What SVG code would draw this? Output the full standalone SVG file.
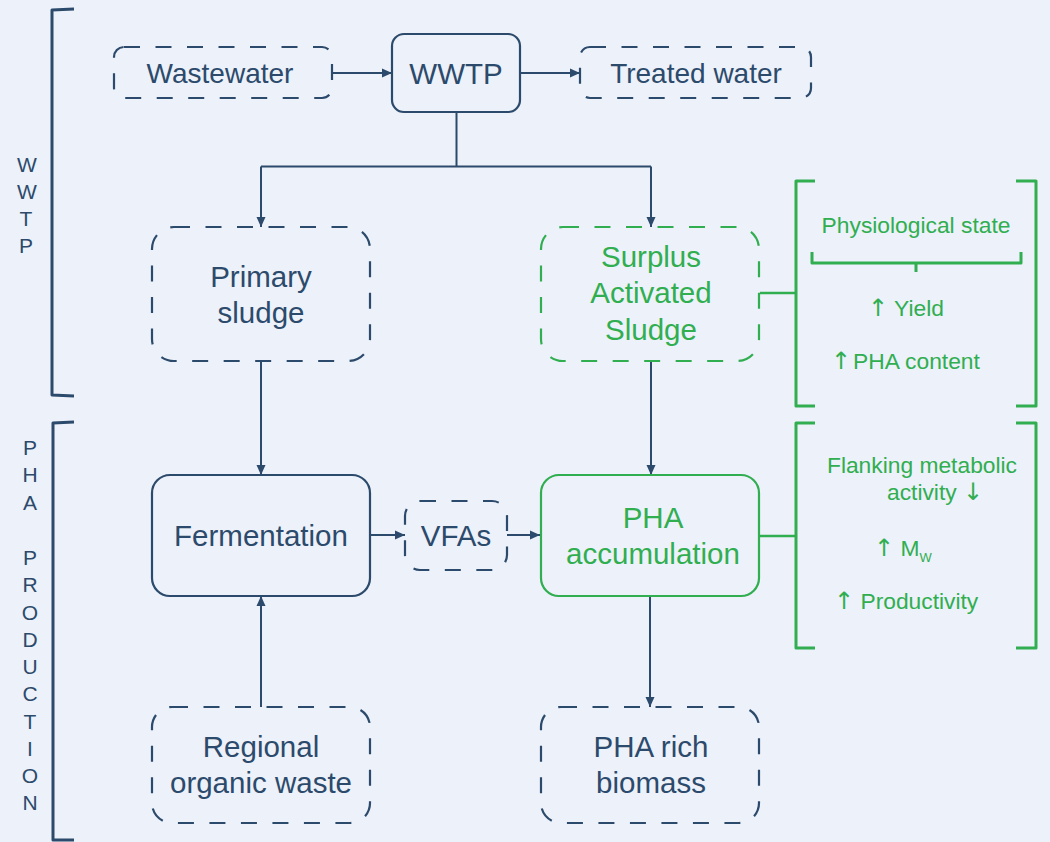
<svg xmlns="http://www.w3.org/2000/svg" width="1050" height="842" viewBox="0 0 1050 842">
<defs>
<style>
.bg{fill:#ECF1FA}
.nd{fill:none;stroke:#2C4A6B;stroke-width:2.2}
.gd{fill:none;stroke:#30AE50;stroke-width:2.2}
.dash{stroke-dasharray:16 15.5}
.t{font-family:"Liberation Sans",Arial,sans-serif;fill:#2C4A6B;text-anchor:middle}
.tg{font-family:"Liberation Sans",Arial,sans-serif;fill:#30AE50}
.big{font-size:29.5px}
.mid{font-size:28px}
.sm{font-size:22.8px}
.ar{font-family:"DejaVu Sans",sans-serif;font-size:24px}
.lt{font-family:"Liberation Sans",Arial,sans-serif;fill:#2C4A6B;font-size:21px;text-anchor:middle}
.con{fill:none;stroke:#2C4A6B;stroke-width:2}
.brk{fill:none;stroke:#2C4A6B;stroke-width:3;stroke-linejoin:round}
.gbrk{fill:none;stroke:#30AE50;stroke-width:3;stroke-linejoin:round}
</style>
<marker id="ah" viewBox="0 0 10 10" refX="10" refY="5" markerWidth="10" markerHeight="10" markerUnits="userSpaceOnUse" orient="auto">
<path d="M0,0.5 L10,5 L0,9.5 Z" fill="#2C4A6B"/>
</marker>
</defs>
<rect class="bg" x="0" y="0" width="1050" height="842"/>

<g id="brackets">
<path class="brk" d="M74,9 L52,10 L52,395 L74,396"/>
<path class="brk" d="M74,422 L53,423 L53,840 L74,840"/>
<path class="gbrk" d="M815,181 L796,181 L796,406 L815,406"/>
<path class="gbrk" d="M1016,181 L1036,181 L1036,406 L1016,406"/>
<path class="gbrk" d="M815,423 L796,423 L796,648 L815,648"/>
<path class="gbrk" d="M1016,423 L1036,423 L1036,648 L1016,648"/>
<path class="gbrk" d="M812,252 L812,263 L1021,263 L1021,252 M916,263 L916,272"/>
</g>

<g id="label-wwtp">
<text class="lt" x="27" y="172">W</text>
<text class="lt" x="27" y="199">W</text>
<text class="lt" x="26" y="226">T</text>
<text class="lt" x="26" y="253">P</text>
</g>
<g id="label-pha-production">
<text class="lt" x="30" y="455">P</text>
<text class="lt" x="30" y="482">H</text>
<text class="lt" x="30" y="510">A</text>
<text class="lt" x="30" y="565">P</text>
<text class="lt" x="30" y="592">R</text>
<text class="lt" x="30" y="620">O</text>
<text class="lt" x="30" y="647">D</text>
<text class="lt" x="30" y="674">U</text>
<text class="lt" x="30" y="701">C</text>
<text class="lt" x="30" y="729">T</text>
<text class="lt" x="30" y="756">I</text>
<text class="lt" x="30" y="783">O</text>
<text class="lt" x="30" y="810">N</text>
</g>

<g id="connectors">
<line class="con" x1="333" y1="73" x2="392" y2="73" marker-end="url(#ah)"/>
<line class="con" x1="520" y1="73" x2="580" y2="73" marker-end="url(#ah)"/>
<path class="con" d="M456.5,112 L456.5,166.5"/>
<path class="con" d="M261,166.5 L651,166.5"/>
<line class="con" x1="261" y1="166.5" x2="261" y2="227" marker-end="url(#ah)"/>
<line class="con" x1="651" y1="166.5" x2="651" y2="227" marker-end="url(#ah)"/>
<line class="con" x1="261" y1="361" x2="261" y2="475" marker-end="url(#ah)"/>
<line class="con" x1="651" y1="361" x2="651" y2="475" marker-end="url(#ah)"/>
<line class="con" x1="371" y1="535" x2="405" y2="535" marker-end="url(#ah)"/>
<line class="con" x1="507" y1="535" x2="540" y2="535" marker-end="url(#ah)"/>
<line class="con" x1="261" y1="707" x2="261" y2="596" marker-end="url(#ah)"/>
<line class="con" x1="650" y1="596" x2="650" y2="707" marker-end="url(#ah)"/>
<line class="gbrk" x1="760" y1="293" x2="796" y2="293" style="stroke-width:2.4"/>
<line class="gbrk" x1="760" y1="536" x2="796" y2="536" style="stroke-width:2.4"/>
</g>

<g id="wastewater">
<rect class="nd dash" x="114" y="47" width="218" height="51" rx="10"/>
<text class="t mid" x="220" y="83">Wastewater</text>
</g>
<g id="wwtp">
<rect class="nd" x="392" y="34" width="128" height="78" rx="12"/>
<text class="t big" x="456" y="84">WWTP</text>
</g>
<g id="treated-water">
<rect class="nd dash" x="580" y="47" width="231" height="51" rx="10"/>
<text class="t mid" x="696" y="83">Treated water</text>
</g>
<g id="primary-sludge">
<rect class="nd dash" x="152" y="227" width="218" height="134" rx="22"/>
<text class="t big" x="261" y="287">Primary</text>
<text class="t big" x="261" y="323">sludge</text>
</g>
<g id="surplus-activated-sludge">
<rect class="gd dash" x="541" y="227" width="218" height="134" rx="22"/>
<text class="tg big" text-anchor="middle" x="651" y="267">Surplus</text>
<text class="tg big" text-anchor="middle" x="651" y="303">Activated</text>
<text class="tg big" text-anchor="middle" x="651" y="340">Sludge</text>
</g>
<g id="fermentation">
<rect class="nd" x="152" y="475" width="218" height="121" rx="18"/>
<text class="t big" x="261" y="546">Fermentation</text>
</g>
<g id="vfas">
<rect class="nd dash" x="405" y="501" width="102" height="69" rx="15"/>
<text class="t big" x="456" y="546">VFAs</text>
</g>
<g id="pha-accumulation">
<rect class="gd" x="541" y="475" width="218" height="121" rx="18"/>
<text class="tg big" text-anchor="middle" x="653" y="528">PHA</text>
<text class="tg big" text-anchor="middle" x="653" y="564">accumulation</text>
</g>
<g id="regional-organic-waste">
<rect class="nd dash" x="152" y="707" width="218" height="116" rx="20"/>
<text class="t big" x="261" y="757">Regional</text>
<text class="t big" x="261" y="793">organic waste</text>
</g>
<g id="pha-rich-biomass">
<rect class="nd dash" x="541" y="707" width="218" height="116" rx="20"/>
<text class="t big" x="651" y="757">PHA rich</text>
<text class="t big" x="651" y="793">biomass</text>
</g>

<g id="sas-effects">
<text class="tg sm" text-anchor="middle" x="916" y="233">Physiological state</text>
<text class="tg sm" x="868" y="316"><tspan class="ar">↑</tspan> Yield</text>
<text class="tg sm" x="831" y="369"><tspan class="ar">↑</tspan><tspan dx="2">PHA content</tspan></text>
</g>
<g id="accumulation-effects">
<text class="tg sm" text-anchor="middle" x="922" y="473">Flanking metabolic</text>
<text class="tg sm" x="887" y="500">activity <tspan class="ar">↓</tspan></text>
<text class="tg sm" x="874" y="556"><tspan class="ar">↑</tspan> M<tspan font-size="13" dy="6">W</tspan></text>
<text class="tg sm" x="834" y="609"><tspan class="ar">↑</tspan> Productivity</text>
</g>
</svg>
